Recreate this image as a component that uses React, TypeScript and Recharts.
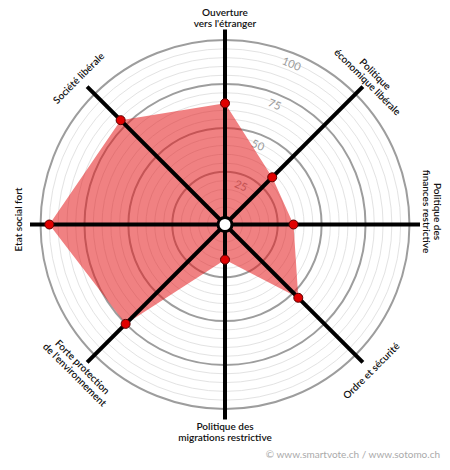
import React from 'react';
import { RadarChart, Radar, PolarGrid, PolarAngleAxis, PolarRadiusAxis } from 'recharts';

// smartspider axes, clockwise from the top
const categories = [
  "Ouverture\nvers l'étranger",
  'Politique\néconomique libérale',
  'Politique des\nfinances restrictive',
  'Ordre et sécurité',
  'Politique des\nmigrations restrictive',
  "Forte protection\nde l'environnement",
  'Etat social fort',
  'Société libérale',
];
const scores = [64, 33, 34, 54, 15, 75, 95, 79];

const majorTicks = [25, 50, 75, 100];
const minorTicks = [5, 10, 15, 20, 30, 35, 40, 45, 55, 60, 65, 70, 80, 85, 90, 95];
const hubTick = [-5];
// -5 sits on the hub, 100 lands a bit inside the end of the spokes
const scoreDomain = [-5, 105.6];

// label rotation (deg) and small nudge along the text direction
const labelRotation = [0, 45, 90, -45, 0, 45, -90, -45];
const labelNudge = [0, 0, -13, 0, 0, 0, 5, 0];

const data = categories.map((subject, i) => ({ subject, score: scores[i] }));

const FONT = "Lato, 'Open Sans', sans-serif";

function AngleTick(props: any) {
  const { x, y, payload } = props;
  const i = categories.indexOf(payload.value);
  const rot = labelRotation[i] ?? 0;
  const lines = String(payload.value).split('\n');
  const lh = 11;
  const cx = x + (labelNudge[i] ?? 0);
  return (
    <text
      transform={`rotate(${rot} ${x} ${y})`}
      x={cx}
      y={y}
      textAnchor="middle"
      fontFamily={FONT}
      fontSize={10}
      fontWeight={600}
      fill="#111"
    >
      {lines.map((l, k) => (
        <tspan key={k} x={cx} dy={k === 0 ? -((lines.length - 1) / 2) * lh + 3.5 : lh}>
          {l}
        </tspan>
      ))}
    </text>
  );
}

function ScoreTick(props: any) {
  const { x, y, payload } = props;
  const a = (67.5 * Math.PI) / 180;
  const tx = x - 10 * Math.cos(a);
  const ty = y + 10 * Math.sin(a);
  return (
    <text
      x={tx}
      y={ty}
      transform={`rotate(22.5 ${tx} ${ty})`}
      textAnchor="middle"
      dominantBaseline="central"
      fontFamily={FONT}
      fontSize={11}
      fill="#999"
    >
      {payload.value}
    </text>
  );
}

function HubTick(props: any) {
  const { x, y } = props;
  return <circle cx={x} cy={y} r={7} fill="#fff" stroke="#000" strokeWidth={3} />;
}

export default function App() {
  return (
    <div style={{ position: 'absolute', left: 0, top: 0, width: 450, height: 470, background: '#fff' }}>
      <RadarChart
        width={450}
        height={470}
        data={data}
        cx={225}
        cy={224.5}
        outerRadius={195}
        margin={{ top: 0, right: 0, bottom: 0, left: 0 }}
      >
        <PolarRadiusAxis
          radiusAxisId="minor"
          type="number"
          scale="linear"
          domain={scoreDomain}
          allowDataOverflow
          ticks={minorTicks}
          tick={false}
          axisLine={false}
          zIndex={-100}
        />
        <PolarRadiusAxis
          radiusAxisId="major"
          type="number"
          scale="linear"
          domain={scoreDomain}
          allowDataOverflow
          ticks={majorTicks}
          angle={67.5}
          tick={<ScoreTick />}
          axisLine={false}
          zIndex={50}
        />
        <PolarGrid radiusAxisId="minor" gridType="circle" radialLines={false} stroke="#e3e3e3" strokeWidth={1} zIndex={-100} />
        <PolarGrid radiusAxisId="major" gridType="circle" radialLines={false} stroke="#9d9d9d" strokeWidth={2} zIndex={-90} />
        <Radar
          radiusAxisId="major"
          dataKey="score"
          fill="#e31a1c"
          fillOpacity={0.55}
          stroke="none"
          dot={false}
          isAnimationActive={false}
          zIndex={100}
        />
        <PolarGrid radiusAxisId="major" polarRadius={[]} stroke="#000" strokeWidth={4} zIndex={150} />
        <Radar
          radiusAxisId="major"
          dataKey="score"
          fill="none"
          stroke="none"
          dot={{ r: 4.5, fill: '#e00000', stroke: '#5a0000', strokeWidth: 1, fillOpacity: 1 }}
          isAnimationActive={false}
          zIndex={200}
        />
        <PolarRadiusAxis
          radiusAxisId="hub"
          type="number"
          scale="linear"
          domain={scoreDomain}
          allowDataOverflow
          ticks={hubTick}
          tick={<HubTick />}
          axisLine={false}
          zIndex={300}
        />
        <PolarAngleAxis dataKey="subject" tick={<AngleTick />} tickLine={false} axisLine={false} tickSize={12} />
      </RadarChart>
      <div
        style={{
          position: 'absolute',
          right: 10,
          top: 448,
          fontFamily: FONT,
          fontSize: 10,
          color: '#aaa',
          whiteSpace: 'nowrap',
        }}
      >
        © www.smartvote.ch / www.sotomo.ch
      </div>
    </div>
  );
}
